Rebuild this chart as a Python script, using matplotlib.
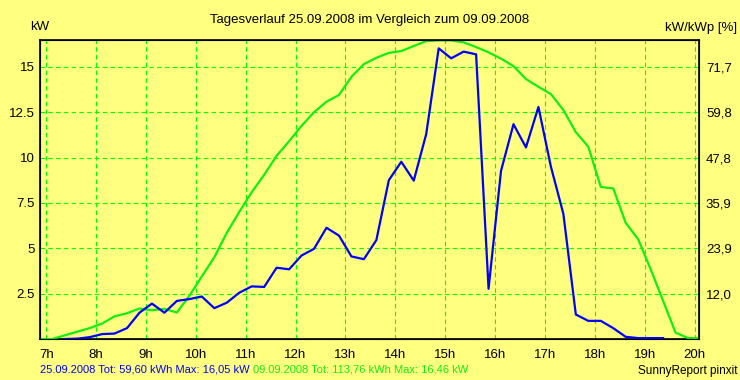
import matplotlib
matplotlib.use("Agg")
import matplotlib.pyplot as plt

plt.rcParams['font.family'] = ['Liberation Sans', 'DejaVu Sans']

# 25.09.2008, 15-minute values (kW)
t_blue = [7.37, 7.62, 7.87, 8.12, 8.37, 8.62, 8.87, 9.12, 9.37, 9.62, 9.87,
          10.12, 10.37, 10.62, 10.87, 11.12, 11.37, 11.62, 11.87, 12.12, 12.37,
          12.62, 12.87, 13.12, 13.37, 13.62, 13.87, 14.12, 14.37, 14.62, 14.87,
          15.12, 15.37, 15.62, 15.87, 16.12, 16.37, 16.62, 16.87, 17.12, 17.37,
          17.62, 17.87, 18.12, 18.37, 18.62, 18.87, 19.12, 19.37]
p_blue = [0.0, 0.02, 0.1, 0.27, 0.3, 0.6, 1.45, 1.95, 1.45, 2.1, 2.2,
          2.34, 1.7, 2.0, 2.55, 2.9, 2.87, 3.93, 3.84, 4.6, 4.97,
          6.13, 5.7, 4.55, 4.4, 5.45, 8.75, 9.77, 8.73, 11.3, 16.02,
          15.47, 15.84, 15.69, 2.77, 9.27, 11.84, 10.56, 12.79, 9.5, 6.9,
          1.35, 1.0, 1.0, 0.6, 0.12, 0.05, 0.05, 0.05]

# 09.09.2008, 15-minute values (kW)
t_green = [6.9, 7.12, 7.37, 7.62, 7.87, 8.12, 8.37, 8.62, 8.87, 9.12, 9.37,
           9.62, 9.87, 10.12, 10.37, 10.62, 10.87, 11.12, 11.37, 11.62, 11.87,
           12.12, 12.37, 12.62, 12.87, 13.12, 13.37, 13.62, 13.87, 14.12, 14.37,
           14.62, 14.87, 15.12, 15.37, 15.62, 15.87, 16.12, 16.37, 16.62, 16.87,
           17.12, 17.37, 17.62, 17.87, 18.12, 18.37, 18.62, 18.87, 19.12, 19.37,
           19.62, 19.87, 20.05]
p_green = [0.0, 0.0, 0.2, 0.4, 0.6, 0.85, 1.25, 1.42, 1.68, 1.58, 1.66,
           1.46, 2.38, 3.45, 4.5, 5.85, 7.0, 8.09, 9.05, 10.1, 10.9,
           11.75, 12.5, 13.08, 13.45, 14.45, 15.15, 15.5, 15.77, 15.87, 16.15,
           16.42, 16.46, 16.46, 16.35, 16.09, 15.8, 15.45, 15.04, 14.33, 13.9,
           13.5, 12.62, 11.4, 10.6, 8.38, 8.3, 6.4, 5.5, 3.85, 2.1,
           0.35, 0.05, 0.05]

hours = list(range(7, 21))
hour_labels = ['%dh' % h for h in hours]
kw_ticks = [2.5, 5, 7.5, 10, 12.5, 15]
kw_labels = ['2.5', '5', '7.5', '10', '12.5', '15']
pct_labels = ['12,0', '23,9', '35,9', '47,8', '59,8', '71,7']

bg = '#ffff80'
grid_green = '#00ff00'
fig = plt.figure(figsize=(7.4, 3.8), dpi=100, facecolor=bg)
ax = fig.add_axes([40/740, 41/380, 659/740, 299/380], facecolor=bg)

ax.plot(t_green, p_green, color='#11ee11', lw=1.6, zorder=3)
ax.plot(t_blue, p_blue, color='#0000ff', lw=1.6, zorder=4)

ax.set_xlim(6.875, 20.09)
ax.set_ylim(0, 16.48)
ax.set_xticks(hours)
ax.set_xticklabels(hour_labels, fontsize=9.5)
ax.set_yticks(kw_ticks)
ax.set_yticklabels(kw_labels, fontsize=9.5)
ax.tick_params(length=0, pad=4)
ax.tick_params(axis='x', pad=7)
ax.grid(True, color=grid_green, lw=0.8, linestyle=(0, (4, 3)), zorder=1)
for s in ax.spines.values():
    s.set_color('black')
    s.set_linewidth(1.2)

ax2 = ax.twinx()
ax2.set_ylim(ax.get_ylim())
ax2.set_yticks(kw_ticks)
ax2.set_yticklabels(pct_labels, fontsize=9.5)
ax2.tick_params(length=0, pad=5)

fig.text(370/740, 1 - 20/380, 'Tagesverlauf 25.09.2008 im Vergleich zum 09.09.2008',
         ha='center', va='center', fontsize=9.5)
fig.text(30/740, 1 - 27/380, 'kW', ha='left', va='center', fontsize=9.5)
fig.text(737/740, 1 - 28/380, 'kW/kWp [%]', ha='right', va='center', fontsize=9.5)

# bottom legend line: blue text followed directly by green text
t1 = fig.text(40/740, 1 - 369/380, '25.09.2008 Tot: 59,60 kWh Max: 16,05 kW',
              ha='left', va='center', fontsize=8, color='#0000ff')
fig.canvas.draw()
bb = t1.get_window_extent()
fig.text((bb.x1 + 3) / 740, 1 - 369/380, '09.09.2008 Tot: 113,76 kWh Max: 16,46 kW',
         ha='left', va='center', fontsize=8, color='#11ee11')
fig.text(737/740, 1 - 371/380, 'SunnyReport pinxit', ha='right', va='center', fontsize=8.5)

fig.savefig('out.png', dpi=100, facecolor=bg)
